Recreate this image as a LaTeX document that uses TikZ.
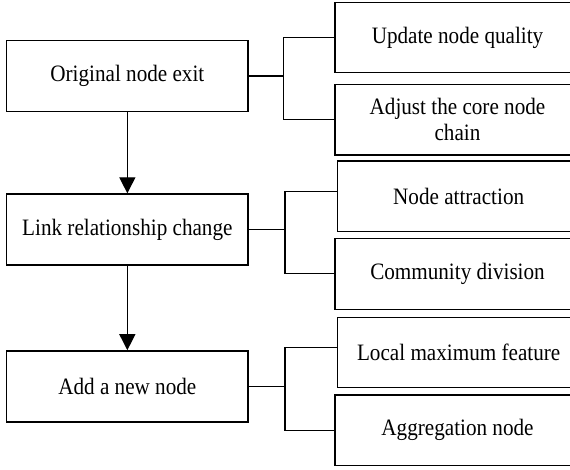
\documentclass[tikz,border=0pt]{standalone}
\usepackage{fontspec}
\setmainfont{Liberation Serif}[FakeStretch=0.9]
\usetikzlibrary{arrows.meta}
\tikzset{
  x=1pt, y=-1pt,
  lbox/.style={draw=black, line width=1.3pt, rectangle, minimum width=241.3pt, minimum height=71pt, inner sep=2pt, align=center, font=\fontsize{23.5}{26}\selectfont},
  rbox/.style={lbox, minimum width=245pt},
  rboxb/.style={lbox, minimum width=242.7pt},
  conn/.style={line width=1.3pt, draw=black},
  flow/.style={line width=1.3pt, draw=black, -{Triangle[length=16pt,width=16pt]}},
}
\begin{document}
\begin{tikzpicture}
\useasboundingbox (0,0) rectangle (570,470);
\clip (0,0) rectangle (570,470);
% left column
\node[lbox] (n1) at (127.35,76) {Original node exit};
\node[lbox] (n2) at (127.35,229.5) {Link relationship change};
\node[lbox] (n3) at (127.35,386.35) {Add a new node};
% right column
\node[rbox, minimum height=70.4pt] (u1) at (457.5,37.5) {Update node quality};
\node[rbox, minimum height=70.3pt] (u2) at (457.5,119.85) {Adjust the core node\\chain};
\node[rboxb, minimum height=70.7pt] (v1) at (458.65,196.35) {Node attraction};
\node[rbox] (v2) at (457.5,273.8) {Community division};
\node[rboxb, minimum height=70pt] (w1) at (458.65,352.7) {Local maximum feature};
\node[rbox, minimum height=70.7pt] (w2) at (457.5,430.35) {Aggregation node};
% arrows
\draw[flow] (n1.south) -- (n2.north);
\draw[flow] (n2.south) -- (n3.north);
% brackets
\coordinate (j1) at (283.3,76);
\draw[conn] (n1.east) -- (j1);
\draw[conn] (j1) |- (u1.west);
\draw[conn] (j1) |- (u2.west);
\coordinate (j2) at (285,229.5);
\coordinate (j2t) at (285,191.3);
\draw[conn] (n2.east) -- (j2);
\draw[conn] (j2) -- (j2t) -- (v1.west |- j2t);
\draw[conn] (j2) |- (v2.west);
\coordinate (j3) at (285,386.35);
\coordinate (j3t) at (285,347.7);
\draw[conn] (n3.east) -- (j3);
\draw[conn] (j3) -- (j3t) -- (w1.west |- j3t);
\draw[conn] (j3) |- (w2.west);
\end{tikzpicture}
\end{document}
